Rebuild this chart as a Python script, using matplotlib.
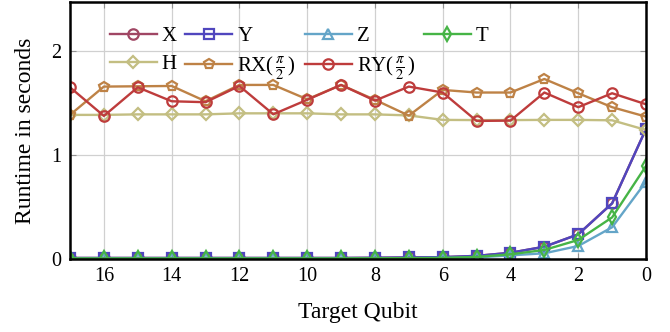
import matplotlib
matplotlib.use("Agg")
import matplotlib.pyplot as plt

plt.rcParams['font.family'] = ['Liberation Serif', 'DejaVu Serif']
plt.rcParams['mathtext.fontset'] = 'stix'

qubits = list(range(17, -1, -1))
series_names = ["X", "Y", "Z", "T", "H", r"RX($\,\frac{\pi}{2}\,$)", r"RY($\,\frac{\pi}{2}\,$)"]
y_x = [0.01, 0.01, 0.01, 0.01, 0.01, 0.01, 0.01, 0.01, 0.01, 0.012, 0.015, 0.018, 0.03, 0.06, 0.118, 0.237, 0.535, 1.25]
y_y = [0.01, 0.01, 0.01, 0.01, 0.01, 0.01, 0.01, 0.01, 0.01, 0.012, 0.015, 0.018, 0.03, 0.06, 0.118, 0.237, 0.535, 1.25]
y_z = [0.005, 0.006, 0.005, 0.005, 0.005, 0.005, 0.005, 0.005, 0.005, 0.006, 0.008, 0.01, 0.015, 0.035, 0.055, 0.125, 0.305, 0.743]
y_t = [0.006, 0.006, 0.006, 0.006, 0.006, 0.006, 0.006, 0.006, 0.006, 0.007, 0.008, 0.01, 0.02, 0.045, 0.087, 0.183, 0.40, 0.894]
y_h = [1.385, 1.385, 1.39, 1.39, 1.39, 1.40, 1.40, 1.40, 1.39, 1.39, 1.38, 1.337, 1.335, 1.335, 1.337, 1.337, 1.333, 1.24]
y_rx = [1.385, 1.657, 1.66, 1.663, 1.516, 1.673, 1.673, 1.535, 1.673, 1.53, 1.378, 1.625, 1.60, 1.60, 1.73, 1.593, 1.459, 1.368]
y_ry = [1.65, 1.375, 1.65, 1.516, 1.507, 1.663, 1.391, 1.53, 1.673, 1.522, 1.657, 1.60, 1.327, 1.33, 1.60, 1.459, 1.593, 1.487]

colors = ["#a04664", "#5046be", "#64a5c8", "#46b446", "#c3be82", "#be8246", "#be3c3c"]
markers = ["o", "s", "^", "d", "D", "p", "o"]
msizes = [7.5, 7.5, 7, 7, 6.5, 7.5, 7.5]
data = [y_x, y_y, y_z, y_t, y_h, y_rx, y_ry]

fig = plt.figure(figsize=(6.7, 3.32), dpi=100)
ax = fig.add_axes([70/670, 1-259/332, 576/670, 257/332])

handles = []
for name, ys, c, m, ms in zip(series_names, data, colors, markers, msizes):
    h, = ax.plot(qubits, ys, color=c, marker=m, markersize=ms, markerfacecolor='none',
                 markeredgewidth=1.6, linewidth=1.7, label=name)
    handles.append(h)

ax.set_xlim(17, 0)
ax.set_ylim(0, 2.47)
ax.set_xticks(range(0, 17, 2))
ax.set_yticks([0, 1, 2])
ax.grid(True, color="#d0d0d0", linewidth=0.9)
ax.tick_params(direction='in', length=4, color='#909090', labelsize=14.5,
               top=True, right=True, pad=6)
for s in ax.spines.values():
    s.set_linewidth(1.8)
ax.set_xlabel("Target Qubit", fontsize=17, labelpad=11)
ax.set_ylabel("Runtime in seconds", fontsize=17, labelpad=11)

# row-major order for a 4-column legend: matplotlib fills columns first
order = [0, 4, 1, 5, 2, 6, 3]
ax.legend([handles[i] for i in order], [series_names[i] for i in order],
          ncol=4, loc='upper left', bbox_to_anchor=(0.069, 0.905), frameon=False,
          fontsize=15, handlelength=2.25, handletextpad=0.25, columnspacing=0.4,
          labelspacing=0.4, borderpad=0.0, borderaxespad=0.0)

fig.savefig("out.png", dpi=100)
